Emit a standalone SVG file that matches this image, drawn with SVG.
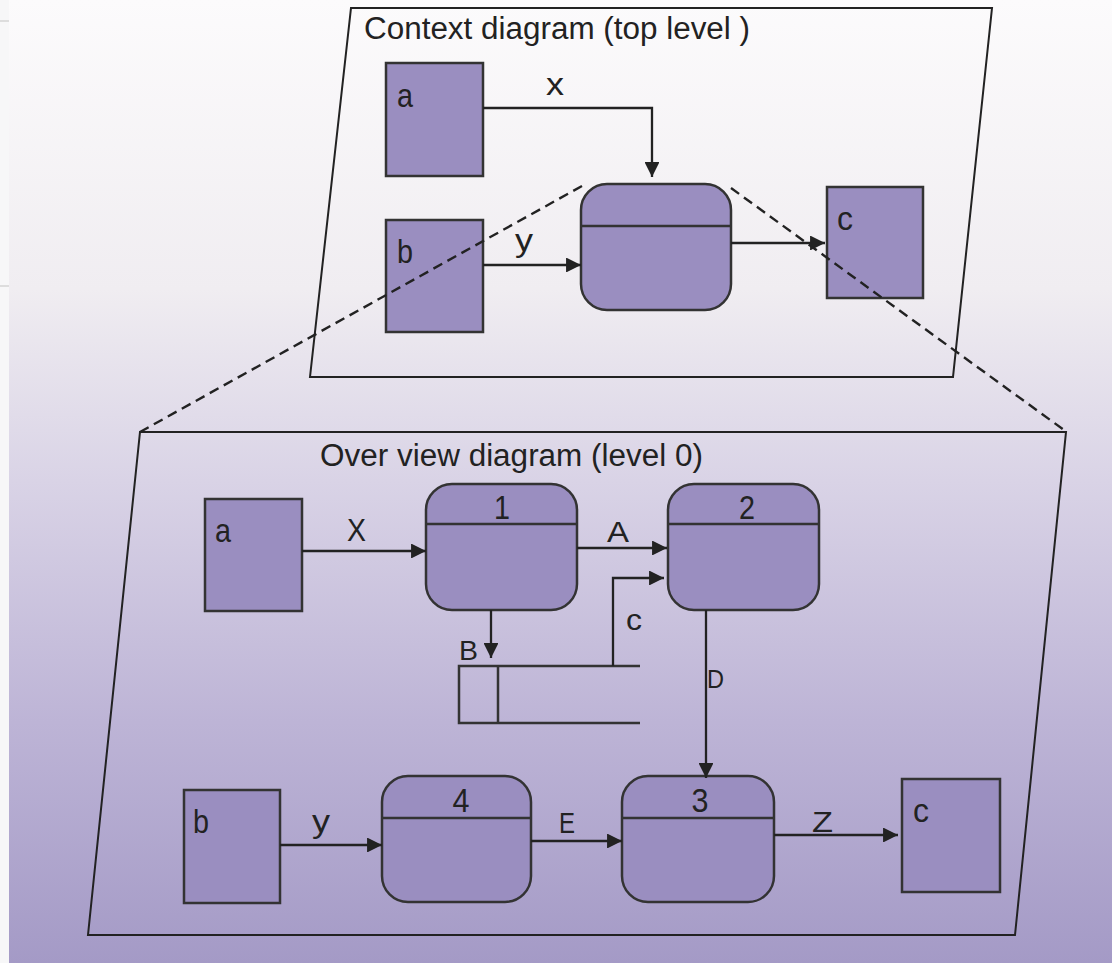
<svg xmlns="http://www.w3.org/2000/svg" width="1112" height="963" viewBox="0 0 1112 963">
<defs>
<linearGradient id="bg" x1="0" y1="0" x2="0" y2="1">
<stop offset="0" stop-color="#fcfbfc"/>
<stop offset="0.3" stop-color="#f0edf1"/>
<stop offset="0.5" stop-color="#d9d3e6"/>
<stop offset="0.75" stop-color="#bdb4d6"/>
<stop offset="1" stop-color="#a49ac6"/>
</linearGradient>
<marker id="arr" viewBox="0 0 10 10" refX="10" refY="5" markerWidth="6.5" markerHeight="6.5" markerUnits="strokeWidth" orient="auto">
<path d="M0,0 L10,5 L0,10 z" fill="#222"/>
</marker>
</defs>
<style>
.frame{fill:none;stroke:#222;stroke-width:2}
.ext{fill:#9a8ec0;stroke:#333;stroke-width:2.5}
.proc{fill:#9a8ec0;stroke:#333;stroke-width:2.5}
.div{stroke:#333;stroke-width:2.5}
.flow{fill:none;stroke:#222;stroke-width:2.3;marker-end:url(#arr)}
.line{fill:none;stroke:#333;stroke-width:2.5}
.dash{fill:none;stroke:#222;stroke-width:2.4;stroke-dasharray:10 6}
text{font-family:"Liberation Sans",Arial,sans-serif;fill:#222}
.t{font-size:31px}
.n{font-size:33px}
.d{font-size:34px}
</style>
<rect x="0" y="0" width="1112" height="963" fill="url(#bg)"/>
<rect x="0" y="0" width="9" height="963" fill="#f7f7f8"/>
<line x1="0" y1="21" x2="9" y2="21" stroke="#ddd" stroke-width="2"/>
<line x1="0" y1="286" x2="9" y2="286" stroke="#ddd" stroke-width="2"/>

<g id="context-frame">
<polygon class="frame" points="351,8 992,8 953,377 310,377"/>
<text class="t" x="364" y="39" textLength="386" lengthAdjust="spacingAndGlyphs">Context diagram (top level )</text>
</g>
<g id="overview-frame">
<polygon class="frame" points="140,432 1066,432 1015,935 88,935"/>
<text class="t" x="320" y="466" textLength="383" lengthAdjust="spacingAndGlyphs">Over view diagram (level 0)</text>
</g>

<g id="ctx-a">
<rect class="ext" x="386" y="63" width="97" height="113"/>
<text class="n" x="397" y="107" textLength="16" lengthAdjust="spacingAndGlyphs">a</text>
</g>
<g id="ctx-b">
<rect class="ext" x="386" y="220" width="97" height="112"/>
<text class="n" x="397" y="263" textLength="16" lengthAdjust="spacingAndGlyphs">b</text>
</g>
<g id="ctx-process">
<rect class="proc" x="581" y="184" width="150" height="126" rx="26"/>
<line class="div" x1="581" y1="226" x2="731" y2="226"/>
</g>
<g id="ctx-c">
<rect class="ext" x="827" y="187" width="96" height="111"/>
<text class="n" x="837" y="230" textLength="16" lengthAdjust="spacingAndGlyphs">c</text>
</g>

<g id="ov-a">
<rect class="ext" x="205" y="499" width="97" height="112"/>
<text class="n" x="215" y="542" textLength="16" lengthAdjust="spacingAndGlyphs">a</text>
</g>
<g id="ov-p1">
<rect class="proc" x="426" y="484" width="151" height="126" rx="26"/>
<line class="div" x1="426" y1="524" x2="577" y2="524"/>
<text class="d" x="502" y="519" text-anchor="middle" textLength="16" lengthAdjust="spacingAndGlyphs">1</text>
</g>
<g id="ov-p2">
<rect class="proc" x="668" y="484" width="151" height="126" rx="26"/>
<line class="div" x1="668" y1="524" x2="819" y2="524"/>
<text class="d" x="747" y="519" text-anchor="middle" textLength="16" lengthAdjust="spacingAndGlyphs">2</text>
</g>
<g id="ov-store">
<polyline class="line" points="640,666 459,666 459,723 640,723"/>
<line class="line" x1="498" y1="666" x2="498" y2="723"/>
</g>
<g id="ov-b">
<rect class="ext" x="184" y="790" width="96" height="113"/>
<text class="n" x="193" y="833" textLength="16" lengthAdjust="spacingAndGlyphs">b</text>
</g>
<g id="ov-p4">
<rect class="proc" x="382" y="776" width="149" height="126" rx="26"/>
<line class="div" x1="382" y1="818" x2="531" y2="818"/>
<text class="d" x="461" y="812" text-anchor="middle" textLength="17" lengthAdjust="spacingAndGlyphs">4</text>
</g>
<g id="ov-p3">
<rect class="proc" x="622" y="776" width="152" height="126" rx="26"/>
<line class="div" x1="622" y1="818" x2="774" y2="818"/>
<text class="d" x="700" y="812" text-anchor="middle" textLength="17" lengthAdjust="spacingAndGlyphs">3</text>
</g>
<g id="ov-c">
<rect class="ext" x="902" y="779" width="98" height="113"/>
<text class="n" x="913" y="822" textLength="16" lengthAdjust="spacingAndGlyphs">c</text>
</g>

<g id="connectors">
<line class="dash" x1="582" y1="186" x2="140" y2="432"/>
<line class="dash" x1="731" y1="188" x2="1064" y2="430"/>
<polyline class="flow" points="483,108 652,108 652,177"/>
<line class="flow" x1="483" y1="265" x2="581" y2="265"/>
<line class="flow" x1="731" y1="243" x2="825" y2="243"/>
<line class="flow" x1="302" y1="551" x2="426" y2="551"/>
<line class="flow" x1="577" y1="548" x2="667" y2="548"/>
<polyline class="flow" points="613,666 613,578 664,578"/>
<line class="flow" x1="491" y1="610" x2="491" y2="658"/>
<line class="flow" x1="706" y1="610" x2="706" y2="778"/>
<line class="flow" x1="280" y1="845" x2="382" y2="845"/>
<line class="flow" x1="531" y1="841" x2="622" y2="841"/>
<line class="flow" x1="774" y1="835" x2="898" y2="835"/>
<text style="font-size:32px" x="546" y="95" textLength="18" lengthAdjust="spacingAndGlyphs">x</text>
<text style="font-size:32px" x="515" y="251" textLength="18" lengthAdjust="spacingAndGlyphs">y</text>
<text style="font-size:31px" x="347" y="541" textLength="19" lengthAdjust="spacingAndGlyphs">X</text>
<text style="font-size:30px" x="607" y="542" textLength="22" lengthAdjust="spacingAndGlyphs">A</text>
<text style="font-size:30px" x="626" y="630" textLength="16" lengthAdjust="spacingAndGlyphs">c</text>
<text style="font-size:28px" x="459" y="660" textLength="19" lengthAdjust="spacingAndGlyphs">B</text>
<text style="font-size:25px" x="707" y="688" textLength="17" lengthAdjust="spacingAndGlyphs">D</text>
<text style="font-size:32px" x="312" y="832" textLength="18" lengthAdjust="spacingAndGlyphs">y</text>
<text style="font-size:29px" x="559" y="833" textLength="16" lengthAdjust="spacingAndGlyphs">E</text>
<text style="font-size:30px" x="812" y="832" textLength="21" lengthAdjust="spacingAndGlyphs">Z</text>
</g>
</svg>
